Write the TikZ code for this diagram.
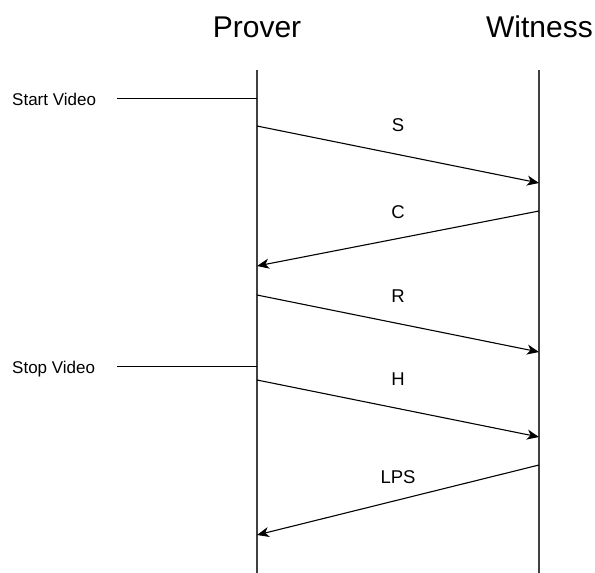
\documentclass[tikz,border=0pt]{standalone}
\usepackage{fontspec}
\setmainfont{Liberation Sans}
\usetikzlibrary{arrows.meta}

\tikzset{
    actor/.style={font=\fontsize{30}{34}\selectfont, anchor=base, inner sep=0pt},
    note/.style={font=\fontsize{17}{20}\selectfont, anchor=base west, inner sep=0pt},
    msglabel/.style={font=\fontsize{18.5}{21}\selectfont, inner sep=0pt},
    lifeline/.style={line width=1.4pt, black!75},
    msg/.style={line width=1.1pt, -{Stealth[length=12pt, width=10pt, inset=3.5pt]}},
}

\begin{document}
\begin{tikzpicture}[x=1pt, y=-1pt]
    \useasboundingbox (0,0) rectangle (595,573);

    % Actors
    \node[actor] (prover) at (257,37) {Prover};
    \node[actor] (witness) at (539.5,37) {Witness};

    % Lifelines
    \coordinate (ptop) at (257,70);
    \coordinate (pbot) at (257,573);
    \coordinate (wtop) at (539,70);
    \coordinate (wbot) at (539,573);
    \draw[lifeline] (ptop) -- (pbot);
    \draw[lifeline] (wtop) -- (wbot);

    % Video start and stop
    \node[note] (start) at (12,105) {Start Video};
    \node[note] (stop) at (12,373) {Stop Video};
    \coordinate (startl) at (117,98);
    \coordinate (startp) at (257,98);
    \coordinate (stopl) at (117,366);
    \coordinate (stopp) at (257,366);
    \draw[line width=1pt] (startl) -- (startp);
    \draw[line width=1pt] (stopl) -- (stopp);

    % Messages
    \coordinate (s1) at (257,126);
    \coordinate (s2) at (539,183);
    \coordinate (c1) at (539,211);
    \coordinate (c2) at (257,266);
    \coordinate (r1) at (257,295);
    \coordinate (r2) at (539,352);
    \coordinate (h1) at (257,380);
    \coordinate (h2) at (539,437);
    \coordinate (l1) at (539,465);
    \coordinate (l2) at (257,535);
    \draw[msg] (s1) -- (s2);
    \draw[msg] (c1) -- (c2);
    \draw[msg] (r1) -- (r2);
    \draw[msg] (h1) -- (h2);
    \draw[msg] (l1) -- (l2);

    \node[msglabel] (lbls) at (398,125) {S};
    \node[msglabel] (lblc) at (398,212) {C};
    \node[msglabel] (lblr) at (398,296) {R};
    \node[msglabel] (lblh) at (398,379) {H};
    \node[msglabel] (lbllps) at (398,477) {LPS};
\end{tikzpicture}
\end{document}
